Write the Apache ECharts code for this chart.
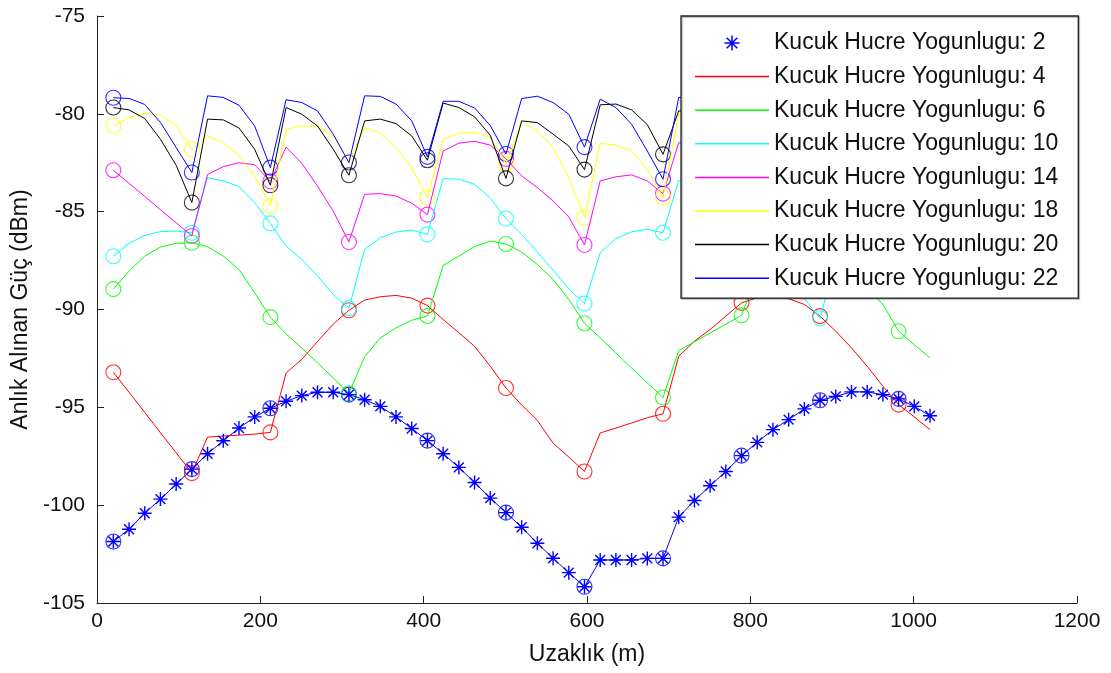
<!DOCTYPE html>
<html><head><meta charset="utf-8">
<script src="https://cdn.jsdelivr.net/npm/echarts@6/dist/echarts.min.js"></script>
<style>html,body{margin:0;padding:0;background:#fff}#c{width:1111px;height:673px}</style>
</head><body><div id="c"></div>
<script>
// distance (m) of each sample
const distance = [20, 39.23, 58.46, 77.69, 96.92, 116.15, 135.38, 154.62, 173.85, 193.08,
  212.31, 231.54, 250.77, 270, 289.23, 308.46, 327.69, 346.92, 366.15, 385.38,
  404.62, 423.85, 443.08, 462.31, 481.54, 500.77, 520, 539.23, 558.46, 577.69,
  596.92, 616.15, 635.38, 654.62, 673.85, 693.08, 712.31, 731.54, 750.77, 770,
  789.23, 808.46, 827.69, 846.92, 866.15, 885.38, 904.62, 923.85, 943.08, 962.31,
  981.54, 1000.77, 1020];

const densities = [2, 4, 6, 10, 14, 18, 20, 22];

const power2 = [-101.86, -101.23, -100.41, -99.69, -98.92, -98.16, -97.37, -96.71, -96.06, -95.49,
  -95.05, -94.69, -94.40, -94.23, -94.23, -94.35, -94.61, -94.95, -95.49, -96.08,
  -96.70, -97.37, -98.07, -98.84, -99.64, -100.38, -101.13, -101.95, -102.71, -103.45,
  -104.17, -102.80, -102.80, -102.80, -102.72, -102.72, -100.61, -99.76, -99.01, -98.28,
  -97.47, -96.79, -96.14, -95.63, -95.08, -94.64, -94.44, -94.21, -94.21, -94.35,
  -94.57, -94.95, -95.43];
const power4 = [-93.21, -94.23, -95.26, -96.30, -97.32, -98.36, -96.52, -96.47, -96.42, -96.37,
  -96.28, -93.24, -92.55, -91.64, -90.75, -90.04, -89.52, -89.35, -89.28, -89.42,
  -89.80, -90.51, -91.19, -91.88, -92.90, -94.01, -94.88, -95.67, -96.83, -97.54,
  -98.28, -96.31, -96.06, -95.80, -95.53, -95.33, -92.39, -91.62, -91.02, -90.34,
  -89.66, -89.40, -89.30, -89.45, -89.74, -90.34, -91.11, -91.96, -92.90, -93.92,
  -94.86, -95.49, -96.14];
const power6 = [-88.96, -88.04, -87.27, -86.81, -86.62, -86.59, -86.79, -87.27, -87.95, -89.15,
  -90.39, -91.25, -91.96, -92.73, -93.50, -94.28, -92.42, -91.45, -90.94, -90.55,
  -90.33, -87.75, -87.27, -86.79, -86.50, -86.65, -87.06, -87.70, -88.46, -89.49,
  -90.70, -91.45, -92.22, -92.99, -93.75, -94.50, -92.10, -91.65, -91.20, -90.75,
  -90.30, -88.20, -87.30, -86.80, -86.60, -86.70, -87.10, -87.80, -88.90, -89.74,
  -91.11, -91.80, -92.47];
const power10 = [-87.28, -86.62, -86.21, -86.02, -85.99, -86.08, -83.26, -83.43, -83.72, -84.54,
  -85.60, -86.76, -87.44, -88.29, -89.23, -89.93, -86.93, -86.33, -86.04, -85.94,
  -86.16, -83.31, -83.34, -83.60, -84.30, -85.35, -86.16, -87.06, -87.99, -88.94,
  -89.70, -87.10, -86.37, -86.03, -85.90, -86.08, -83.40, -83.50, -83.80, -84.60,
  -85.60, -86.70, -87.50, -88.40, -89.45, -90.45, -87.40, -86.50, -86.10, -86.00,
  -86.10, -83.40, -83.50];
const power14 = [-82.88, -83.55, -84.22, -84.90, -85.57, -86.24, -83.10, -82.70, -82.50, -82.60,
  -83.45, -81.70, -82.53, -83.69, -84.97, -86.55, -84.11, -84.08, -84.20, -84.57,
  -85.15, -81.90, -81.50, -81.40, -81.60, -82.30, -83.17, -83.77, -84.45, -85.27,
  -86.70, -83.43, -83.22, -83.12, -83.43, -84.08, -81.47, -81.60, -82.10, -82.80,
  -83.50, -84.20, -84.90, -85.50, -86.00, -86.60, -84.50, -84.20, -84.30, -84.60,
  -85.20, -81.80, -81.60];
const power18 = [-80.62, -80.19, -79.97, -80.07, -80.62, -81.81, -81.13, -81.47, -82.15, -83.17,
  -84.71, -80.79, -80.62, -80.62, -81.13, -82.45, -80.70, -81.00, -81.72, -82.75,
  -84.28, -81.30, -81.00, -80.95, -81.21, -82.55, -80.45, -80.87, -81.72, -83.26,
  -85.30, -81.52, -81.59, -81.90, -82.83, -84.28, -80.02, -80.20, -80.80, -82.00,
  -84.00, -80.80, -80.70, -81.20, -82.30, -84.50, -80.90, -81.00, -81.60, -82.80,
  -84.80, -80.80, -81.00];
const power20 = [-79.68, -79.80, -80.24, -81.30, -82.63, -84.53, -80.27, -80.31, -80.72, -81.81,
  -83.65, -79.68, -80.02, -80.62, -81.81, -83.14, -80.36, -80.27, -80.50, -81.13,
  -82.37, -79.45, -79.68, -80.15, -81.10, -83.30, -80.36, -80.45, -81.04, -81.64,
  -82.85, -79.54, -79.50, -79.80, -80.55, -82.07, -79.85, -79.90, -80.30, -81.20,
  -82.80, -79.70, -79.80, -80.30, -81.30, -83.00, -79.80, -80.00, -80.50, -81.60,
  -83.40, -79.80, -80.10];
const power22 = [-79.18, -79.21, -79.52, -80.44, -81.72, -83.00, -79.08, -79.16, -79.56, -80.62,
  -82.75, -79.28, -79.42, -79.85, -81.04, -82.49, -79.08, -79.11, -79.50, -80.36,
  -82.20, -79.36, -79.36, -79.70, -80.60, -82.05, -79.22, -79.10, -79.42, -80.02,
  -81.70, -79.25, -79.68, -80.53, -81.90, -83.34, -79.16, -79.20, -79.60, -80.50,
  -82.00, -79.20, -79.30, -79.70, -80.70, -82.30, -79.20, -79.30, -79.80, -80.80,
  -82.60, -79.30, -79.50];

const powers = [power2, power4, power6, power10, power14, power18, power20, power22];
const xTicks = { min: 0, max: 1200, step: 200 };
const yTicks = { min: -105, max: -75, step: 5 };
const xTitle = 'Uzaklık (m)';
const yTitle = 'Anlık Alınan Güç (dBm)';
const labelPrefix = 'Kucuk Hucre Yogunlugu: ';

// styles
const colors = ['#0000ff', '#ff0000', '#00ff00', '#00ffff', '#ff00ff', '#ffff00', '#000000', '#0000ff'];
const FONT = '"Liberation Sans", Arial, sans-serif';
const STAR = 'path://M0,9 L20,9 L20,11 L0,11 Z M9,0 L11,0 L11,20 L9,20 Z ' +
  'M3.64,2.22 L17.78,16.36 L16.36,17.78 L2.22,3.64 Z M17.78,3.64 L3.64,17.78 L2.22,16.36 L16.36,2.22 Z';
const STAR_LEGEND = STAR + ' M-6,-6 L-5.99,-6 L-6,-5.99 Z M26,26 L25.99,26 L26,25.99 Z';
const LINE_ICON = 'path://M0,0 L74,0 L74,1.5 L0,1.5 Z';

const names = densities.map(d => labelPrefix + d);
const series = [];
powers.forEach((vals, i) => {
  const pts = distance.map((x, k) => [x, vals[k]]);
  series.push({
    name: names[i], type: 'line', data: pts,
    symbol: i === 0 ? STAR : 'none', symbolSize: 14, showSymbol: i === 0, showAllSymbol: true,
    lineStyle: { color: colors[i], width: 1 },
    itemStyle: { color: colors[i], borderWidth: 0 },
    silent: true, animation: false, emphasis: { disabled: true }
  });
  series.push({
    name: names[i] + ' (o)', type: 'scatter',
    data: pts.filter((p, k) => k % 5 === 0),
    symbol: 'circle', symbolSize: 15,
    itemStyle: { color: 'rgba(0,0,0,0)', borderColor: colors[i], borderWidth: 1.1 },
    silent: true, animation: false, emphasis: { disabled: true }
  });
});

const axisCommon = {
  type: 'value',
  axisLine: { show: true, onZero: false, lineStyle: { color: '#222', width: 1 } },
  axisTick: { show: true, inside: true, length: 7, lineStyle: { color: '#222', width: 1 } },
  splitLine: { show: false },
  nameLocation: 'middle',
  nameTextStyle: { fontSize: 23, color: '#111', fontFamily: FONT }
};

const chart = echarts.init(document.getElementById('c'), null, { renderer: 'canvas' });
chart.setOption({
  animation: false,
  backgroundColor: '#fff',
  grid: { left: 97, right: 34, top: 16, bottom: 70, containLabel: false, outerBoundsMode: 'none' },
  xAxis: Object.assign({}, axisCommon, {
    min: xTicks.min, max: xTicks.max, interval: xTicks.step,
    name: xTitle, nameGap: 40,
    axisLabel: { fontSize: 21, color: '#111', fontFamily: FONT, margin: 8, formatter: v => String(v) }
  }),
  yAxis: Object.assign({}, axisCommon, {
    min: yTicks.min, max: yTicks.max, interval: yTicks.step,
    name: yTitle, nameGap: 62, nameRotate: 90,
    axisLabel: { fontSize: 21, color: '#111', fontFamily: FONT, margin: 12, formatter: v => String(v) }
  }),
  legend: {
    orient: 'vertical', left: 681, top: 16,
    itemWidth: 74, itemHeight: 24, itemGap: 9.6,
    padding: [15, 20, 8, 14],
    backgroundColor: '#fff', borderColor: '#222', borderWidth: 1.3,
    shadowColor: 'rgba(0,0,0,0.35)', shadowOffsetX: 1, shadowOffsetY: 1, shadowBlur: 1,
    textStyle: { fontSize: 23, color: '#111', fontFamily: FONT, lineHeight: 24 },
    selectedMode: false, z: 10,
    data: names.map((n, i) => ({ name: n, icon: i === 0 ? STAR_LEGEND : LINE_ICON }))
  },
  series: series
});
</script>
</body></html>
